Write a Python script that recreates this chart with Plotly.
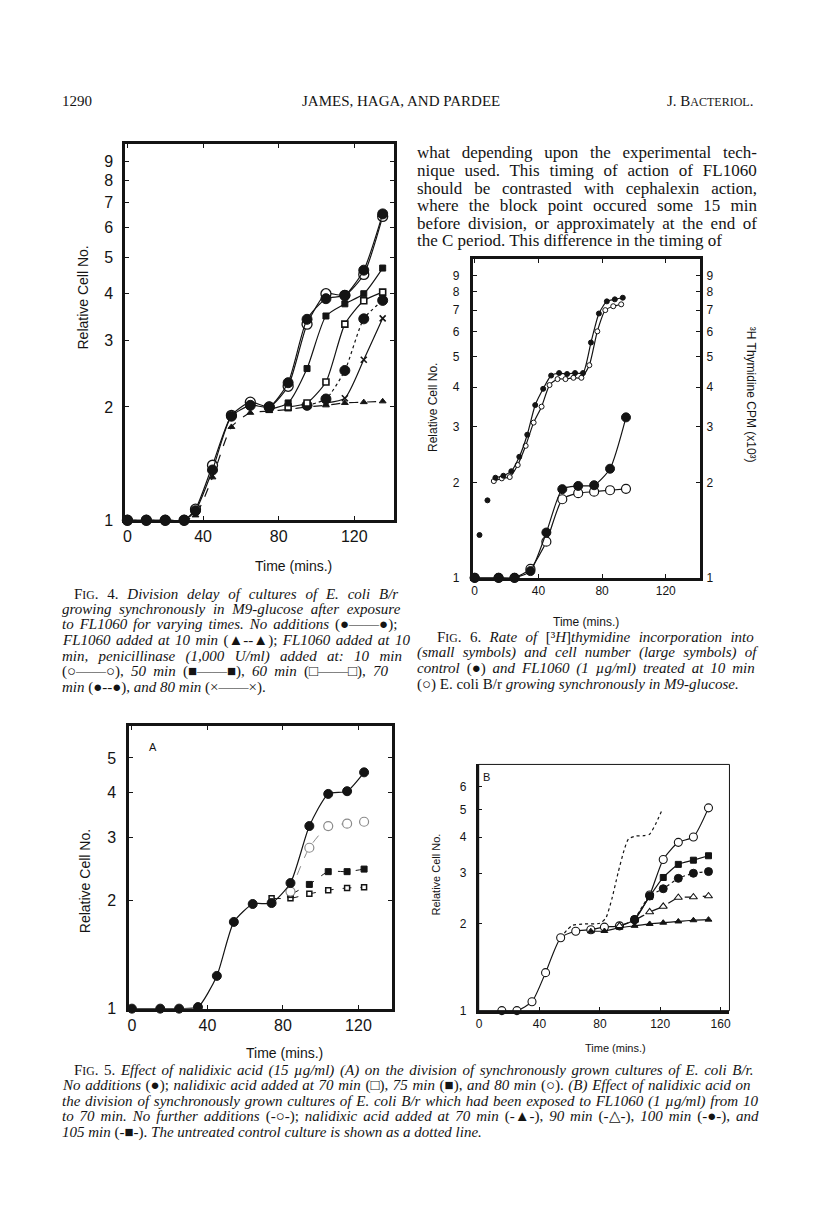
import re
import plotly.graph_objects as go

W, H = 816, 1231
INK = '#141414'

# ---------------- data ----------------
# Fig. 4
t4 = [0, 10, 20, 30, 36, 45, 55, 65, 75, 85, 95, 105, 115, 125, 135]
ctrl4 = [1, 1, 1, 1, 1.06, 1.36, 1.89, 2.02, 2.0, 2.32, 3.42, 3.88, 3.96, 4.62, 6.52]
pen10 = [1, 1, 1, 1, 1.07, 1.40, 1.90, 2.06, 2.0, 2.27, 3.32, 4.0, 3.96, 4.5, 6.42]
fl10 = [1, 1, 1, 1, 1.03, 1.30, 1.77, 1.93, 1.95, 1.97, 2.0, 2.02, 2.05, 2.06, 2.07]
t4_50 = [75, 85, 95, 105, 115, 125, 135]
pen50 = [1.97, 2.05, 2.53, 3.49, 3.76, 4.0, 4.68]
t4_60 = [85, 95, 105, 115, 125, 135]
pen60 = [2.0, 2.05, 2.33, 3.32, 3.83, 4.04]
t4_70 = [95, 105, 115, 125, 135]
pen70 = [2.02, 2.1, 2.5, 3.43, 3.84]
t4_80 = [105, 115, 125, 135]
pen80 = [2.05, 2.11, 2.67, 3.44]

# Fig. 6
t6 = [0, 15, 25, 35, 45, 55, 65, 75, 85, 95]
cells_ctrl6 = [1, 1, 1, 1.05, 1.39, 1.905, 1.95, 1.96, 2.21, 3.21]
cells_fl6 = [1, 1, 1, 1.067, 1.30, 1.77, 1.85, 1.87, 1.89, 1.91]
t6_early = [3, 8]
thy_early = [1.365, 1.756]
t6_thy_ctrl = [13, 18, 23, 28, 33, 38, 43, 48, 53, 58, 63, 68, 73, 78, 83, 88, 93]
thy_ctrl = [2.07, 2.1, 2.17, 2.41, 2.83, 3.51, 3.95, 4.35, 4.43, 4.4, 4.43, 4.43, 5.53, 6.83, 7.46, 7.57, 7.66]
t6_thy_fl = [12, 17, 22, 27, 32, 37, 42, 47, 52, 57, 62, 67, 72, 77, 82, 87, 92]
thy_fl = [2.02, 2.06, 2.08, 2.27, 2.61, 3.09, 3.47, 4.06, 4.24, 4.24, 4.28, 4.28, 4.69, 6.0, 7.0, 7.2, 7.3]

# Fig. 5A
t5a = [0, 15, 25, 35, 45, 54, 64, 74, 84, 94, 104, 114, 123]
ctrl5a = [1, 1, 1, 1.01, 1.234, 1.745, 1.958, 1.97, 2.24, 3.23, 3.97, 4.04, 4.56]
t5a_80 = [84, 94, 104, 114, 123]
nal80 = [2.12, 2.81, 3.23, 3.28, 3.32]
t5a_75 = [84, 94, 104, 114, 123]
nal75 = [2.08, 2.22, 2.41, 2.41, 2.45]
t5a_70 = [74, 84, 94, 104, 114, 123]
nal70 = [2.03, 2.03, 2.09, 2.14, 2.17, 2.18]

# Fig. 5B
t5b = [15, 25, 35, 44, 54, 64, 74, 83, 93, 103, 113, 122, 132, 142, 152]
none5b = [1.0, 1.0, 1.074, 1.355, 1.79, 1.887, 1.91, 1.95, 1.97, 2.07, 2.52, 3.35, 3.84, 4.01, 5.06]
t5b_70 = [74, 83, 93, 103, 113, 122, 132, 142, 152]
b70 = [1.887, 1.89, 1.94, 1.97, 2.0, 2.02, 2.04, 2.06, 2.07]
t5b_90 = [93, 103, 113, 122, 132, 142, 152]
b90 = [1.97, 2.06, 2.2, 2.3, 2.47, 2.48, 2.5]
t5b_100 = [103, 113, 122, 132, 142, 152]
b100 = [2.07, 2.5, 2.65, 2.88, 3.0, 3.04]
t5b_105 = [103, 113, 122, 132, 142, 152]
b105 = [2.07, 2.49, 2.9, 3.22, 3.33, 3.45]
t5b_ctrl = [54, 58, 62, 70, 80, 84, 88, 92, 96, 99, 104, 109, 113, 117, 121]
ctrl5b = [1.79, 1.9, 1.98, 2.0, 2.01, 2.1, 2.45, 3.0, 3.6, 3.95, 4.04, 4.05, 4.1, 4.45, 4.95]

log_ticks = [1, 2, 3, 4, 5, 6, 7, 8, 9]

# ---------------- text ----------------
header_left = '1290'
header_mid = 'JAMES, HAGA, AND PARDEE'
header_right = 'J. B<span style="font-size:12px">ACTERIOL</span>.'

body = [
    'what depending upon the experimental tech-',
    'nique used. This timing of action of FL1060',
    'should be contrasted with cephalexin action,',
    'where the block point occured some 15 min',
    'before division, or approximately at the end of',
    'the C period. This difference in the timing of',
]

cap4 = [
    'FIG. 4. <i>Division delay of cultures of E. coli B/r</i>',
    '<i>growing synchronously in M9-glucose after exposure</i>',
    '<i>to FL1060 for varying times. No additions</i> (●——●);',
    '<i>FL1060 added at 10 min</i> (▲--▲); <i>FL1060 added at 10</i>',
    '<i>min, penicillinase (1,000 U/ml) added at: 10 min</i>',
    '(○——○), <i>50 min</i> (■——■), <i>60 min</i> (□——□), <i>70</i>',
    '<i>min</i> (●--●), <i>and 80 min</i> (×——×).',
]
cap6 = [
    'FIG. 6. <i>Rate of</i> [³<i>H</i>]<i>thymidine incorporation into</i>',
    '<i>(small symbols) and cell number (large symbols) of</i>',
    '<i>control</i> (●) <i>and FL1060 (1 µg/ml) treated at 10 min</i>',
    '(○) E. coli B/r <i>growing synchronously in M9-glucose.</i>',
]
cap5 = [
    'FIG. 5. <i>Effect of nalidixic acid (15 µg/ml) (A) on the division of synchronously grown cultures of E. coli B/r.</i>',
    '<i>No additions</i> (●); <i>nalidixic acid added at 70 min</i> (□), <i>75 min</i> (■), <i>and 80 min</i> (○). <i>(B) Effect of nalidixic acid on</i>',
    '<i>the division of synchronously grown cultures of E. coli B/r which had been exposed to FL1060 (1 µg/ml) from 10</i>',
    '<i>to 70 min. No further additions</i> (-○-); <i>nalidixic acid added at 70 min</i> (-▲-), <i>90 min</i> (-△-), <i>100 min</i> (-●-), <i>and</i>',
    '<i>105 min</i> (-■-). <i>The untreated control culture is shown as a dotted line.</i>',
]

# rough Times metrics (Liberation Serif is metric compatible) for justifying lines
def _tab(groups):
    d = {}
    for chars, w in groups:
        for c in chars:
            d[c] = w
    return d

ROMAN = _tab([(' .,', 250), ('ijlt:;/', 278), ('fr-()[]I', 333), ('s', 389), ('J', 389),
              ('acez', 444), ('bdghknopquvxy0123456789µ', 500), ('FPS', 556), ('EILTZ', 611),
              ('BCR', 667), ('w', 722), ('ADGHKNOQUVXY', 722), ('m', 778), ('M', 889), ('W', 944)])
ITAL = _tab([(' .,', 250), ('fijlt/', 278), ('-():;I', 333), ('rs', 389), ('z', 389), ('[]', 389),
             ('ceJkvxy', 444), ('abdghnopqu0123456789µ', 500), ('S', 500), ('LTYZ', 556),
             ('ABEFPRVX', 611), ('w', 667), ('CKN', 667), ('m', 722), ('DGHOQU', 722), ('MW', 833)])
OTHER = {'—': 1000, '×': 564, '³': 300}


def measure(markup, size):
    total, ital, small = 0, False, False
    for tok in re.split(r'(<[^>]+>)', markup):
        if tok.startswith('<'):
            if tok == '<i>':
                ital = True
            elif tok == '</i>':
                ital = False
            elif tok.startswith('<span'):
                small = True
            elif tok == '</span>':
                small = False
            continue
        for ch in tok:
            w = (ITAL if ital else ROMAN).get(ch, OTHER.get(ch, 760))
            total += w * (0.78 if small else 1)
    return total * size / 1000


annotations = []


def P(x, y):
    return x / W, 1 - y / H


def txt(x, y, s, size, family='Liberation Serif', xanchor='left', angle=0, yanchor='middle'):
    ax_, ay_ = P(x, y)
    annotations.append(dict(x=ax_, y=ay_, xref='paper', yref='paper', text=s, showarrow=False,
                            xanchor=xanchor, yanchor=yanchor, textangle=angle, align=xanchor,
                            borderpad=0, font=dict(family=family, size=size, color=INK)))


def block(lines, x0, width, y0, pitch, size, indent=0):
    for k, m in enumerate(lines):
        m = m.replace('FIG.', 'F<span style="font-size:%.1fpx">IG</span>.' % (size * 0.78))
        left = x0 + (indent if k == 0 else 0)
        avail = width - (indent if k == 0 else 0)
        n = re.sub('<[^>]+>', '', m).count(' ')
        ws = 0
        if n and k < len(lines) - 1:
            ws = (avail - measure(m, size)) / n
        txt(left, y0 + k * pitch, '<span style="word-spacing:%.2fpx">%s</span>' % (ws, m), size)


# page text
txt(50, 94, header_left, 15)
txt(392, 94, header_mid, 15, xanchor='center')
txt(747, 94, header_right, 15, xanchor='right')
block(body, 407, 340, 146, 17.7, 17)
block(cap4, 50, 340, 590, 15.7, 15, indent=12)
block(cap6, 407, 340, 633.5, 16, 15, indent=20)
block(cap5, 50, 697, 1070, 15.7, 15, indent=12)

SANS = 'Liberation Sans'
txt(72, 292, 'Relative Cell No.', 14, SANS, 'center', -90)
txt(284, 562, 'Time (mins.)', 14, SANS, 'center')
txt(424, 402, 'Relative Cell No.', 12, SANS, 'center', -90)
txt(743, 390, '³H Thymidine CPM (x10³)', 12, SANS, 'center', 90)
txt(578, 619, 'Time (mins.)', 12, SANS, 'center')
txt(74, 880, 'Relative Cell No.', 14, SANS, 'center', -90)
txt(275, 1053, 'Time (mins.)', 14, SANS, 'center')
txt(427, 873, 'Relative Cell No.', 11, SANS, 'center', -90)
txt(607, 1048, 'Time (mins.)', 11, SANS, 'center')
txt(143, 744, 'A', 11, SANS, 'center')
txt(478, 775, 'B', 11, SANS, 'center')

# ---------------- traces ----------------
fig = go.Figure()


def add(x, y, ax, sym, size, fill=INK, dash='solid', lw=1.2, mode='lines+markers', lc=INK, mlw=1):
    xa, ya = ax
    fig.add_trace(go.Scatter(
        x=x, y=y, mode=mode, xaxis=xa, yaxis=ya, cliponaxis=False, showlegend=False,
        line=dict(color=lc, width=lw, dash=dash, shape='spline', smoothing=0.6),
        marker=dict(symbol=sym, size=size, color=fill, line=dict(color=lc, width=mlw)),
    ))


A4, A6, A6R, A5A, A5B = ('x', 'y'), ('x2', 'y2'), ('x2', 'y5'), ('x3', 'y3'), ('x4', 'y4')

add(t4, fl10, A4, 'triangle-up', 6, dash='dash')
add(t4_80, pen80, A4, 'x-thin-open', 6, mlw=1.6)
add(t4_70, pen70, A4, 'circle', 10, dash='dot')
add(t4_60, pen60, A4, 'square', 6, fill='white', mlw=1.6)
add(t4_50, pen50, A4, 'square', 6)
add(t4, pen10, A4, 'circle', 10, fill='white', mlw=1.3)
add(t4, ctrl4, A4, 'circle', 10)

add(t6, cells_fl6, A6, 'circle', 9, fill='white', mlw=1.2)
add(t6, cells_ctrl6, A6, 'circle', 9)
add(t6_early, thy_early, A6R, 'circle', 5, mode='markers')
add(t6_thy_fl, thy_fl, A6R, 'circle', 5, fill='white', mlw=1)
add(t6_thy_ctrl, thy_ctrl, A6R, 'circle', 5)

add(t5a_70, nal70, A5A, 'square', 5, fill='white', dash='dash', lw=1, mlw=1.5)
add(t5a_75, nal75, A5A, 'square', 6, dash='dash', lw=1)
add(t5a_80, nal80, A5A, 'circle', 9, fill='white', dash='dash', lw=1, lc='#8a8a8a', mlw=1.2)
add(t5a, ctrl5a, A5A, 'circle', 9)

add(t5b_ctrl, ctrl5b, A5B, 'circle', 1, dash='dot', lw=1.2, mode='lines')
add(t5b, none5b, A5B, 'circle', 8, fill='white', mlw=1.1)
add(t5b_70, b70, A5B, 'triangle-up', 6)
add(t5b_90, b90, A5B, 'triangle-up', 7, fill='white', dash='dash', mlw=1.1)
add(t5b_100, b100, A5B, 'circle', 8, dash='dot')
add(t5b_105, b105, A5B, 'square', 6)


# ---------------- axes ----------------
def xax(dom, rng, vals, anchor, size, lw=3, mirror='ticks'):
    return dict(domain=[dom[0] / W, dom[1] / W], range=rng, anchor=anchor, tickvals=vals,
                ticks='inside', ticklen=4, tickwidth=1, tickcolor=INK, showline=True, linewidth=lw,
                linecolor=INK, mirror=mirror, showgrid=False, zeroline=False,
                tickfont=dict(family=SANS, size=size, color=INK))


def yax(dom, top, vals, anchor, size, lw=3, mirror='ticks', standoff=5):
    d = xax((0, 1), [0, top], vals, anchor, size, lw, mirror)
    d.update(domain=[1 - dom[1] / H, 1 - dom[0] / H], type='log', range=[0, top],
             ticktext=[str(v) for v in vals], ticklabelstandoff=standoff)
    return d


layout = dict(
    width=W, height=H, margin=dict(l=0, r=0, t=0, b=0),
    paper_bgcolor='white', plot_bgcolor='rgba(0,0,0,0)',
    annotations=annotations,
    xaxis=xax((115, 385), [-1.05, 141.05], [0, 40, 80, 120], 'y', 16),
    yaxis=yax((137, 516), 1.0, log_ticks, 'x', 16, standoff=6),
    xaxis2=xax((464, 692), [-1.25, 141.25], [0, 40, 80, 120], 'y2', 12),
    yaxis2=yax((253, 574), 1.006, log_ticks, 'x2', 12, standoff=8),
    xaxis3=xax((119, 383), [-1.32, 137.85], [0, 40, 80, 120], 'y3', 16),
    yaxis3=yax((723, 1008), 0.789, [1, 2, 3, 4, 5], 'x3', 16, standoff=7),
    xaxis4=xax((470, 722), [-0.33, 165.9], [0, 40, 80, 120, 160], 'y4', 12, lw=2.5, mirror=False),
    yaxis4=yax((762, 1010), 0.855, [1, 2, 3, 4, 5, 6], 'x4', 12, lw=2.5, mirror=False, standoff=7),
)
y5 = yax((253, 574), 1.006, log_ticks, 'x2', 12, standoff=6)
y5.update(overlaying='y2', side='right', showline=False, ticks='')
layout['yaxis5'] = y5
layout['shapes'] = [dict(type='rect', xref='x4 domain', yref='y4 domain', x0=0, x1=1, y0=0, y1=1,
                         line=dict(color=INK, width=1))]

fig.update_layout(**layout)
fig.write_html("out.html")
